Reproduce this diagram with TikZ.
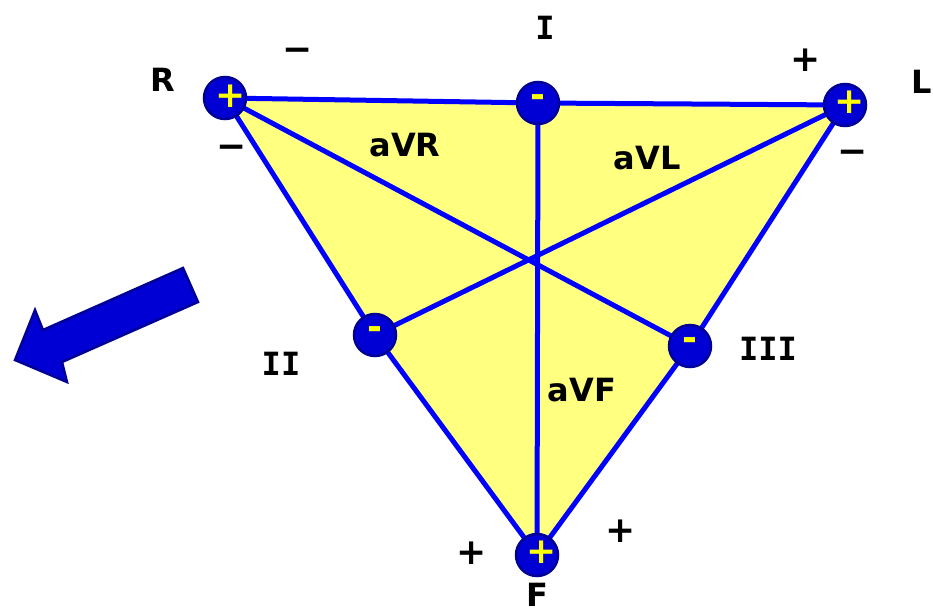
\documentclass[tikz,border=0pt]{standalone}
\usepackage{fontspec}
\setmainfont{DejaVu Sans}
\newfontfamily\romanfont{DejaVu Sans Mono}
\usetikzlibrary{positioning,backgrounds}
\definecolor{leadblue}{RGB}{0,0,255}
\definecolor{dotblue}{RGB}{0,0,212}
\definecolor{rimblue}{RGB}{0,0,150}
\definecolor{triyellow}{RGB}{255,255,128}
\definecolor{signyellow}{RGB}{255,255,0}

\begin{document}
\begin{tikzpicture}[
    x=1pt, y=-1pt,
    lead/.style={draw=leadblue, line width=5pt, line join=round},
    electrode/.style={circle, fill=dotblue, draw=rimblue, line width=2.5pt, minimum size=42pt, inner sep=0pt},
    pole/.style={font=\fontsize{36}{36}\selectfont\bfseries, text=signyellow, inner sep=0pt},
    lbl/.style={font=\fontsize{32}{36}\selectfont\bfseries, inner sep=0pt},
    sign/.style={font=\fontsize{36}{36}\selectfont\bfseries, inner sep=0pt}
]
\useasboundingbox (0,0) rectangle (933,615);

% electrodes
\node[electrode] (eR) at (225,98) {};
\node[electrode] (eI) at (538,103) {};
\node[electrode] (eL) at (845,105) {};
\node[electrode] (eII) at (375,335) {};
\node[electrode] (eIII) at (690,346) {};
\node[electrode] (eF) at (537,555) {};

\node[pole] at ([shift={(6,-2)}]eR.center) {+};
\node[pole] at ([shift={(5,-3)}]eL.center) {+};
\node[pole] at ([shift={(5,-3)}]eF.center) {+};
\node[pole] at ([shift={(0,-2)}]eI.center) {-};
\node[pole] at ([shift={(0,-2)}]eII.center) {-};
\node[pole] at ([shift={(0,-2)}]eIII.center) {-};

% triangle and leads
\begin{scope}[on background layer]
\fill[triyellow] (eR.center) -- (eI.center) -- (eL.center) -- (eIII.center)
    -- (eF.center) -- (eII.center) -- cycle;
\draw[lead] (eR.center) -- (eI.center) -- (eL.center);
\draw[lead] (eR.center) -- (eII.center) -- (eF.center);
\draw[lead] (eL.center) -- (eIII.center) -- (eF.center);
\draw[lead] (eI.center) -- (eF.center);
\draw[lead] (eR.center) -- (eIII.center);
\draw[lead] (eL.center) -- (eII.center);
\end{scope}

% limb and lead names
\node[lbl] (nR) at (163,80) {R};
\node[lbl] (nL) at (922,82) {L};
\node[lbl] (nF) at (537,595) {F};
\node[lbl] (nI) at (545,28) {\romanfont I};
\node[lbl] (nII) at (281,364) {\romanfont II};
\node[lbl] (nIII) at (768,349) {\romanfont III};
\node[lbl] (aVR) at (405,145) {aVR};
\node[lbl] (aVL) at (647,158) {aVL};
\node[lbl] (aVF) at (582,390) {aVF};

% polarity signs
\node[sign] at (298,55) {−};
\node[sign] at (806,60) {+};
\node[sign] at (232,152) {−};
\node[sign] at (853,157) {−};
\node[sign] at (472,553) {+};
\node[sign] at (621,531) {+};

% axis arrow
\draw[fill=dotblue, draw=rimblue, line width=2.5pt, line join=miter]
    (183,268) -- (43,330) -- (35,310) -- (15,360) -- (67,382) -- (62,362)
    -- (198,302) -- cycle;

\end{tikzpicture}
\end{document}
